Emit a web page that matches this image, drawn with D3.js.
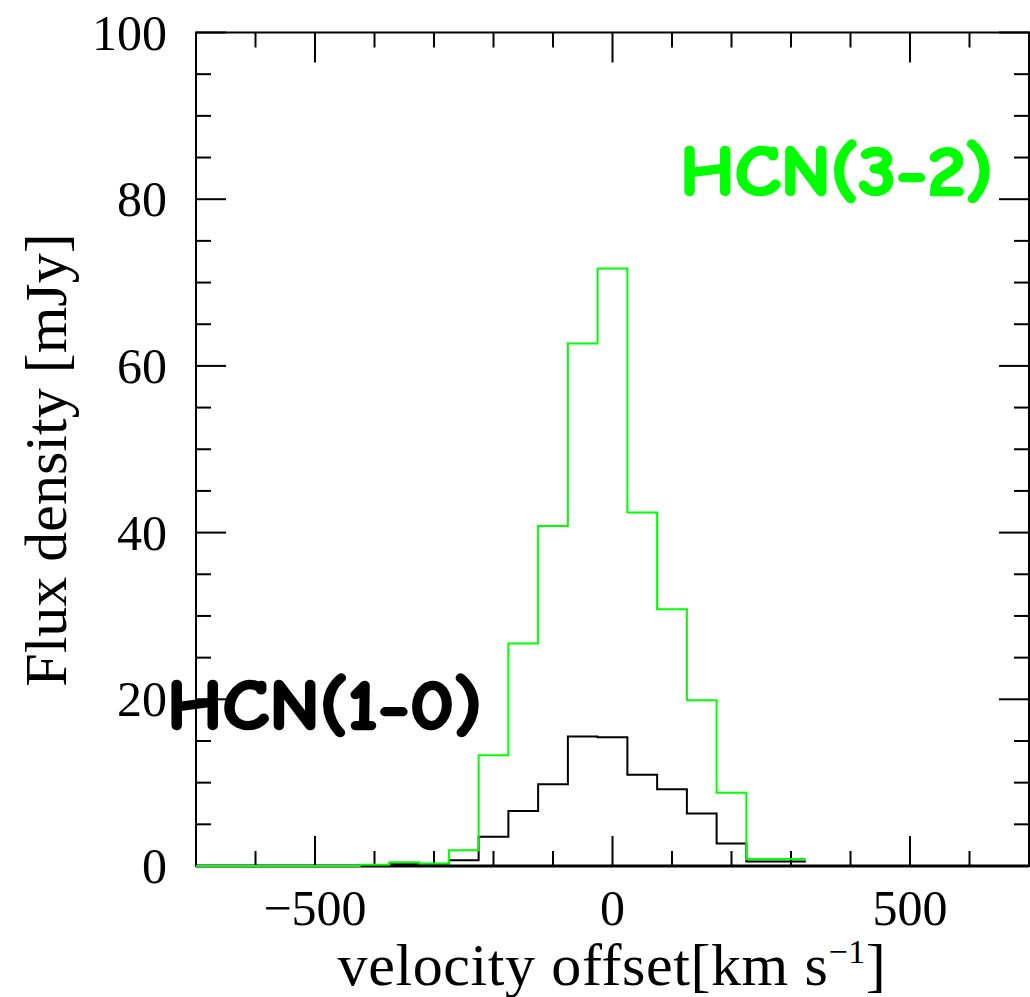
<!DOCTYPE html>
<html>
<head>
<meta charset="utf-8">
<script src="https://cdn.jsdelivr.net/npm/d3@7"></script>
<style>
  body { margin: 0; background: #fff; }
  svg { display: block; }
</style>
</head>
<body>
<div id="chart"></div>
<script>
// Channel centres (km/s), channel width 50 km/s
const velocity = [-700, -650, -600, -550, -500, -450, -400, -350, -300, -250, -200,
                  -150, -100, -50, 0, 50, 100, 150, 200, 250, 300];
// HCN(1-0) flux density, mJy
const hcn10 = [0, 0, 0, 0, 0, 0, 0.1, 0.2, 0.25, 0.7, 3.5,
               6.6, 9.8, 15.55, 15.45, 10.95, 9.2, 6.3, 2.7, 0.55, 0.55];
// HCN(3-2) flux density, mJy
const hcn32 = [0, 0, 0, 0, 0, 0, 0.15, 0.45, 0.3, 1.9, 13.3,
               26.7, 40.8, 62.7, 71.7, 42.4, 30.8, 19.9, 8.8, 0.85, 0.85];

const xMajor = [-500, 0, 500];
const yMajor = [0, 20, 40, 60, 80, 100];

const width = 1030, height = 997;
const chanWidth = 50;

const x = d3.scaleLinear().domain([-700, 700]).range([196, 1029]);
const y = d3.scaleLinear().domain([0, 100]).range([866, 32.5]);

const svg = d3.select('#chart').append('svg')
    .attr('width', width)
    .attr('height', height);

svg.append('defs').append('clipPath')
    .attr('id', 'plot-clip')
  .append('rect')
    .attr('x', 196)
    .attr('y', 30)
    .attr('width', 1029 - 196)
    .attr('height', 868 - 30);

// ticks (inward, on all four sides)
const xMinor = d3.range(-700, 701, 100);
const yMinor = d3.range(0, 101, 5);
const ticks = svg.append('g').attr('stroke', '#000').attr('stroke-width', 2);

xMinor.forEach(v => {
  const len = xMajor.includes(v) ? 30 : 15;
  ticks.append('line').attr('x1', x(v)).attr('x2', x(v)).attr('y1', y(0)).attr('y2', y(0) - len);
  ticks.append('line').attr('x1', x(v)).attr('x2', x(v)).attr('y1', y(100)).attr('y2', y(100) + len);
});
yMinor.forEach(v => {
  const len = yMajor.includes(v) ? 30 : 15;
  ticks.append('line').attr('x1', x(-700)).attr('x2', x(-700) + len).attr('y1', y(v)).attr('y2', y(v));
  ticks.append('line').attr('x1', x(700)).attr('x2', x(700) - len).attr('y1', y(v)).attr('y2', y(v));
});

// frame
svg.append('rect')
    .attr('x', x(-700))
    .attr('y', y(100))
    .attr('width', x(700) - x(-700))
    .attr('height', y(0) - y(100))
    .attr('fill', 'none')
    .attr('stroke', '#000')
    .attr('stroke-width', 2);
svg.append('line')
    .attr('x1', x(-700)).attr('x2', x(700))
    .attr('y1', y(0)).attr('y2', y(0))
    .attr('stroke', '#000')
    .attr('stroke-width', 3);

// histogram-style step path from channel centres
function stepPoints(values) {
  const pts = [];
  velocity.forEach((v, i) => {
    pts.push([v - chanWidth / 2, values[i]]);
    pts.push([v + chanWidth / 2, values[i]]);
  });
  return pts;
}

const line = d3.line()
    .x(d => x(d[0]))
    .y(d => y(d[1]));

const plot = svg.append('g').attr('clip-path', 'url(#plot-clip)');

plot.append('path')
    .attr('d', line(stepPoints(hcn10)))
    .attr('fill', 'none')
    .attr('stroke', '#000')
    .attr('stroke-width', 2);

plot.append('path')
    .attr('d', line(stepPoints(hcn32)))
    .attr('fill', 'none')
    .attr('stroke', '#00ff00')
    .attr('stroke-width', 2);

// tick labels
const serif = '"Liberation Serif", "Times New Roman", serif';
svg.append('g').selectAll('text')
    .data(xMajor)
    .join('text')
      .attr('x', d => x(d))
      .attr('y', 925)
      .attr('text-anchor', 'middle')
      .style('font-family', serif)
      .style('font-size', '50px')
      .text(d => d < 0 ? '\u2212' + Math.abs(d) : d);

svg.append('g').selectAll('text')
    .data(yMajor)
    .join('text')
      .attr('x', 167)
      .attr('y', d => y(d) + 17)
      .attr('text-anchor', 'end')
      .style('font-family', serif)
      .style('font-size', '50px')
      .text(d => d);

// axis titles
const xTitle = svg.append('text')
    .attr('x', 612)
    .attr('y', 985)
    .attr('text-anchor', 'middle')
    .style('font-family', serif)
    .style('font-size', '60px')
    .style('letter-spacing', '0.6px');
xTitle.append('tspan').text('velocity offset[km s');
xTitle.append('tspan').attr('dy', -22).style('font-size', '34px').text('\u22121');
xTitle.append('tspan').attr('dy', 22).text(']');

svg.append('text')
    .attr('transform', 'translate(66,460) rotate(-90)')
    .attr('text-anchor', 'middle')
    .style('font-family', serif)
    .style('font-size', '60px')
    .text('Flux density [mJy]');

// line labels
const comic = '"Comic Sans MS", "Comic Neue", "DejaVu Sans", sans-serif';
svg.append('text')
    .attr('x', 167)
    .attr('y', 729)
    .attr('textLength', 315)
    .attr('lengthAdjust', 'spacingAndGlyphs')
    .style('font-family', comic)
    .style('font-weight', 'bold')
    .style('font-size', '70px')
    .attr('fill', '#000')
    .attr('stroke', '#000')
    .attr('stroke-width', 2.5)
    .attr('stroke-linejoin', 'round')
    .text('HCN(1-0)');

svg.append('text')
    .attr('x', 680)
    .attr('y', 195)
    .attr('textLength', 313)
    .attr('lengthAdjust', 'spacingAndGlyphs')
    .style('font-family', comic)
    .style('font-weight', 'bold')
    .style('font-size', '70px')
    .attr('fill', '#00ff00')
    .attr('stroke', '#00ff00')
    .attr('stroke-width', 2.5)
    .attr('stroke-linejoin', 'round')
    .text('HCN(3-2)');
</script>
</body>
</html>
